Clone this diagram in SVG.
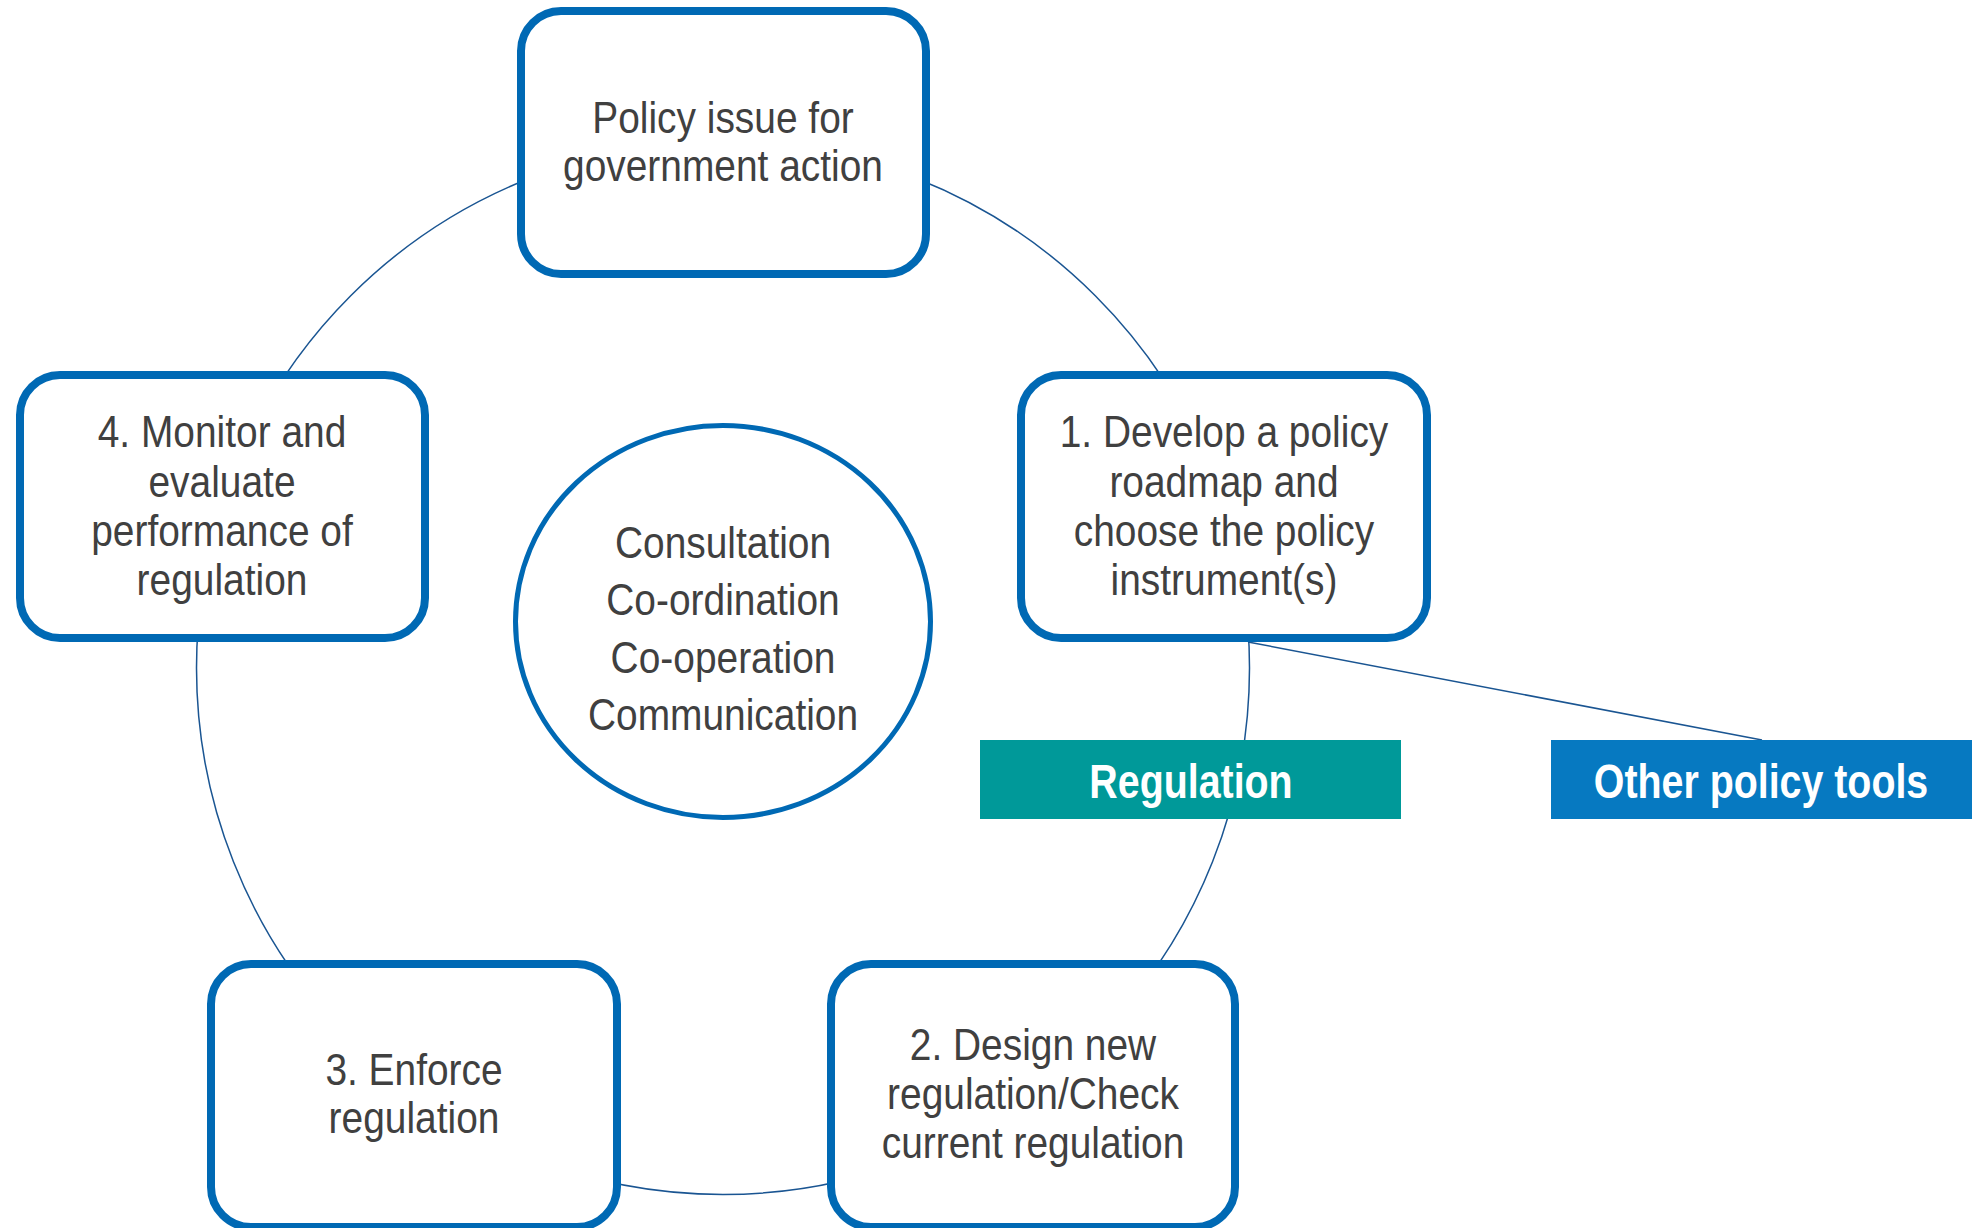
<svg xmlns="http://www.w3.org/2000/svg" width="1977" height="1228" viewBox="0 0 1977 1228">
<style>
.box{fill:#ffffff;stroke:#0069b4;stroke-width:8}
.conn{fill:none;stroke:#1a5592;stroke-width:1.5}
.t{font-family:"Liberation Sans",Arial,sans-serif;font-size:44px;fill:#404040;text-anchor:middle}
.b{font-family:"Liberation Sans",Arial,sans-serif;font-size:48px;font-weight:bold;fill:#ffffff;text-anchor:middle}
</style>
<rect width="1977" height="1228" fill="#ffffff"/>
<g id="connectors">
<circle class="conn" cx="723" cy="668" r="526.5"/>
<line class="conn" x1="1248" y1="642" x2="1762" y2="740"/>
</g>
<g id="policy-issue">
<rect class="box" x="521" y="11" width="405" height="263" rx="40" ry="40"/>
<g transform="translate(723 0) scale(0.884 1)"><text class="t"><tspan x="0" y="133">Policy issue for</tspan><tspan x="0" y="181">government action</tspan></text></g>
</g>
<g id="step1">
<rect class="box" x="1021" y="375" width="406" height="263" rx="40" ry="40"/>
<g transform="translate(1224 0) scale(0.884 1)"><text class="t"><tspan x="0" y="447">1. Develop a policy</tspan><tspan x="0" y="497">roadmap and</tspan><tspan x="0" y="546">choose the policy</tspan><tspan x="0" y="595">instrument(s)</tspan></text></g>
</g>
<g id="step4">
<rect class="box" x="20" y="375" width="405" height="263" rx="40" ry="40"/>
<g transform="translate(222 0) scale(0.884 1)"><text class="t"><tspan x="0" y="447">4. Monitor and</tspan><tspan x="0" y="497">evaluate</tspan><tspan x="0" y="546">performance of</tspan><tspan x="0" y="595">regulation</tspan></text></g>
</g>
<g id="step3">
<rect class="box" x="211" y="964" width="406" height="263" rx="40" ry="40"/>
<g transform="translate(414 0) scale(0.884 1)"><text class="t"><tspan x="0" y="1085">3. Enforce</tspan><tspan x="0" y="1133">regulation</tspan></text></g>
</g>
<g id="step2">
<rect class="box" x="831" y="964" width="404" height="263" rx="40" ry="40"/>
<g transform="translate(1033 0) scale(0.884 1)"><text class="t"><tspan x="0" y="1060">2. Design new</tspan><tspan x="0" y="1109">regulation/Check</tspan><tspan x="0" y="1158">current regulation</tspan></text></g>
</g>
<g id="center">
<ellipse cx="723" cy="621.5" rx="207.5" ry="196" fill="#ffffff" stroke="#0069b4" stroke-width="5"/>
<g transform="translate(723 0) scale(0.884 1)"><text class="t"><tspan x="0" y="558">Consultation</tspan><tspan x="0" y="615">Co-ordination</tspan><tspan x="0" y="673">Co-operation</tspan><tspan x="0" y="730">Communication</tspan></text></g>
</g>
<g id="regulation">
<rect x="980" y="740" width="421" height="79" fill="#009999"/>
<g transform="translate(1191 0) scale(0.82 1)"><text class="b" x="0" y="798">Regulation</text></g>
</g>
<g id="other-tools">
<rect x="1551" y="740" width="421" height="79" fill="#0679c1"/>
<g transform="translate(1761 0) scale(0.82 1)"><text class="b" x="0" y="798">Other policy tools</text></g>
</g>
</svg>
